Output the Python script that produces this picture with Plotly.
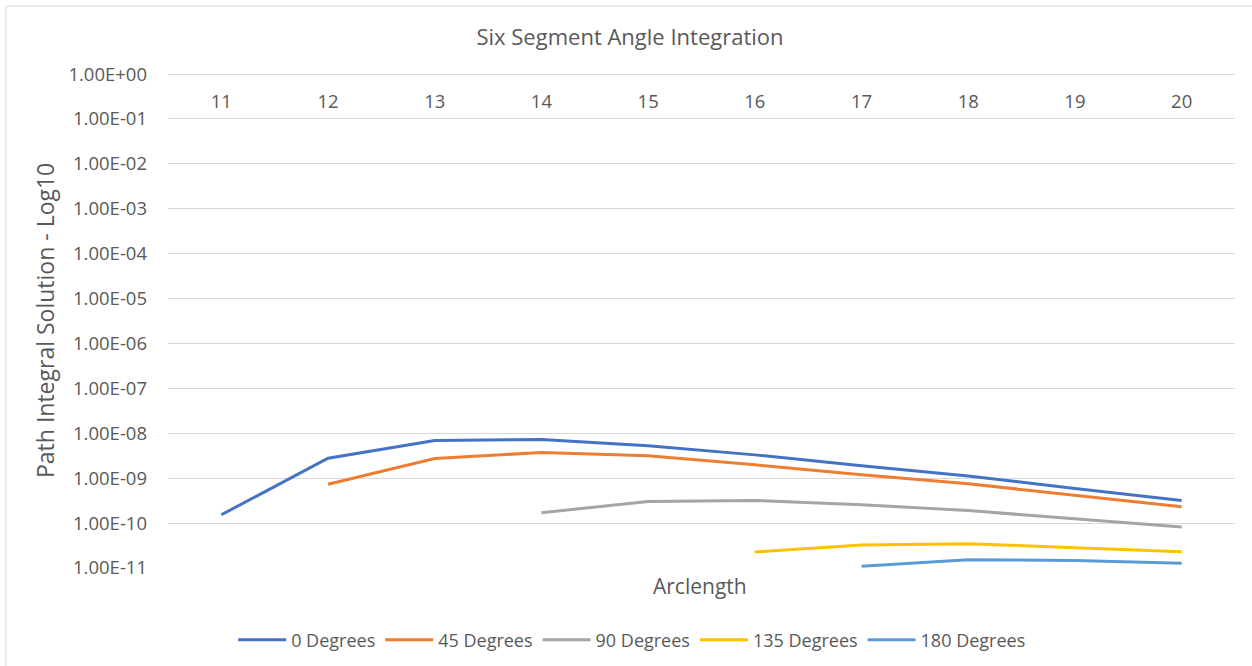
import plotly.graph_objects as go

arclength = ["11", "12", "13", "14", "15", "16", "17", "18", "19", "20"]

deg0 = [1.53e-10, 2.79e-9, 6.9e-9, 7.3e-9, 5.3e-9, 3.3e-9, 1.9e-9, 1.12e-9, 5.9e-10, 3.2e-10]
deg45 = [None, 7.3e-10, 2.74e-9, 3.73e-9, 3.15e-9, 1.98e-9, 1.19e-9, 7.5e-10, 4.2e-10, 2.31e-10]
deg90 = [None, None, None, 1.7e-10, 3.03e-10, 3.2e-10, 2.57e-10, 1.9e-10, 1.25e-10, 8.2e-11]
deg135 = [None, None, None, None, None, 2.28e-11, 3.26e-11, 3.48e-11, 2.88e-11, 2.31e-11]
deg180 = [None, None, None, None, None, None, 1.09e-11, 1.53e-11, 1.46e-11, 1.27e-11]

series_names = ["0 Degrees", "45 Degrees", "90 Degrees", "135 Degrees", "180 Degrees"]
series_values = [deg0, deg45, deg90, deg135, deg180]
colors = ["#4472C4", "#ED7D31", "#A5A5A5", "#FFC000", "#5B9BD5"]

y_tickvals = [10.0 ** e for e in range(0, -12, -1)]
y_ticktext = [f"{v:.2E}" for v in y_tickvals]

FONT = "Open Sans"
GREY = "#595959"

fig = go.Figure()
for name, vals, c in zip(series_names, series_values, colors):
    fig.add_trace(go.Scatter(
        x=arclength, y=vals, name=name, mode="lines",
        line=dict(color=c, width=3), connectgaps=False,
    ))

TOP = 72
fig.update_layout(
    width=1252, height=666,
    margin=dict(l=168, r=17, t=TOP, b=98, autoexpand=False),
    paper_bgcolor="white", plot_bgcolor="white",
    font=dict(family=FONT, color=GREY, size=18),
    title=dict(text="Six Segment Angle Integration", x=630 / 1252, xref="container",
               y=1 - 37 / 666, yref="container", xanchor="center", yanchor="middle",
               font=dict(size=22, color=GREY, family=FONT)),
    showlegend=True,
    legend=dict(orientation="h", x=0.435, xanchor="center", y=-0.146, yanchor="middle",
                font=dict(size=18, color=GREY), tracegroupgap=0, itemwidth=48),
    xaxis=dict(type="category", categoryorder="array", categoryarray=arclength,
               side="top", anchor="free", position=(568 - 112) / (568 - TOP),
               ticks="", showgrid=False, showline=False, zeroline=False,
               tickfont=dict(size=18.5, color=GREY), range=[-0.5, 9.5]),
    yaxis=dict(type="log", range=[-11.0005, 0.045], tickvals=y_tickvals, ticktext=y_ticktext,
               showgrid=True, gridcolor="#D9D9D9", gridwidth=1, showline=False,
               zeroline=False, ticks="", ticklabelstandoff=20,
               tickfont=dict(size=18.5, color=GREY)),
    annotations=[
        dict(text="Arclength", x=(700 - 168) / 1067, xref="paper", y=-(586 - 568) / (568 - TOP), yref="paper",
             xanchor="center", yanchor="middle", showarrow=False,
             font=dict(size=21, color=GREY, family=FONT)),
        dict(text="Path Integral Solution - Log10", x=(45 - 168) / 1067, xref="paper",
             y=(568 - 321) / (568 - TOP), yref="paper", xanchor="center", yanchor="middle", textangle=-90,
             showarrow=False, font=dict(size=23, color=GREY, family=FONT)),
    ],
    shapes=[
        dict(type="line", xref="paper", yref="paper", x0=(6 - 168) / 1067, x1=1.1,
             y0=1 + (TOP - 6) / (568 - TOP), y1=1 + (TOP - 6) / (568 - TOP),
             line=dict(color="#D9D9D9", width=1)),
        dict(type="line", xref="paper", yref="paper", x0=(6 - 168) / 1067, x1=(6 - 168) / 1067,
             y0=1 + (TOP - 6) / (568 - TOP), y1=-0.3,
             line=dict(color="#D9D9D9", width=1)),
    ],
)
fig.update_layout(legend_y=-(640 - 568) / (568 - TOP))

fig.write_html("out.html", config={"displayModeBar": False},
               post_script="document.body.style.margin='0px';")
